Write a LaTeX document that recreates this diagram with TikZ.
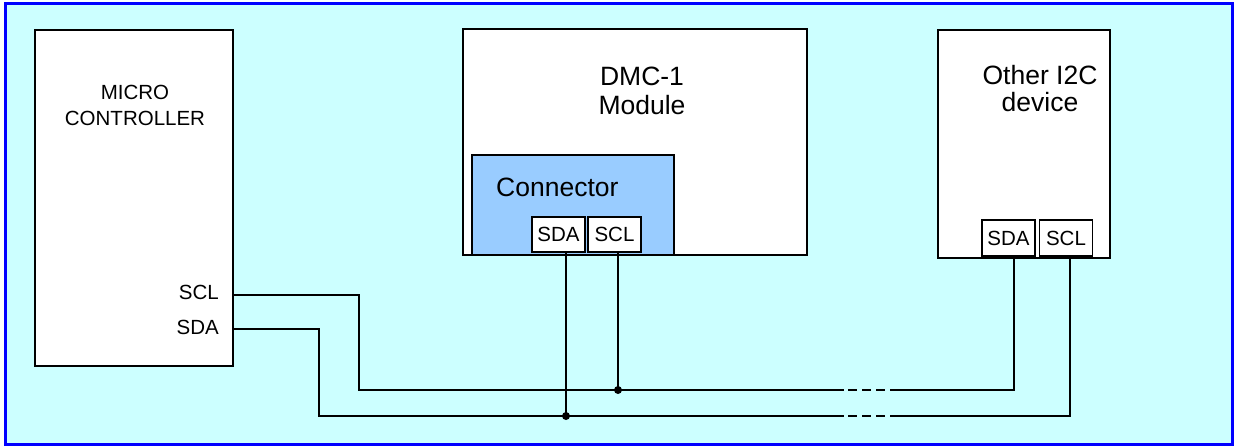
\documentclass[tikz,border=0pt]{standalone}
\usepackage{fontspec}
\setmainfont{Liberation Sans}

\definecolor{panelcyan}{HTML}{CCFFFF}
\definecolor{connblue}{HTML}{99CCFF}

\tikzset{
  unit/.style={draw,line width=2pt,fill=white,inner sep=0pt},
  pin/.style={draw,line width=1.6pt,fill=white,inner sep=0pt,
    minimum width=53pt,font=\fontsize{20.5}{20.5}\selectfont},
  wire/.style={line width=1.8pt},
  junction/.style={circle,fill,inner sep=0pt,minimum size=8pt},
  gap/.style={line width=1.8pt,dash pattern=on 9pt off 5pt,dash phase=10pt},
  bigtext/.style={align=center,inner sep=0pt,font=\fontsize{26.5}{29}\selectfont},
  pinlabel/.style={anchor=base east,inner sep=0pt,font=\fontsize{20.5}{20.5}\selectfont}
}

\begin{document}
\begin{tikzpicture}[x=1pt,y=-1pt]
    \useasboundingbox (0,0) rectangle (1235,447);
    \draw [blue,line width=3pt,fill=panelcyan] (5,3) rectangle (1232,444);

    % micro controller
    \node [unit,minimum width=198pt,minimum height=336pt] (mcu) at (134,198) {};
    \node [align=center,inner sep=0pt,font=\fontsize{20.5}{26}\selectfont]
    (mcu-name) at (135,105.5) {MICRO\\CONTROLLER};
    \node [pinlabel] (mcu-scl-label) at (219,299.5) {SCL};
    \node [pinlabel] (mcu-sda-label) at (219,334) {SDA};
    \coordinate (mcu-scl) at (233,295);
    \coordinate (mcu-sda) at (233,329);

    % DMC-1 module with its connector
    \node [unit,minimum width=344pt,minimum height=226pt] (dmc) at (635,142) {};
    \node [bigtext] (dmc-name) at (642,90.5) {DMC-1\\Module};
    \node [unit,fill=connblue,minimum width=202pt,minimum height=100pt]
    (conn) at (573,205) {};
    \node [bigtext,anchor=base west] (conn-name) at (496,196) {Connector};
    \node [pin,minimum height=35pt] (dsda) at (558.5,234.5) {SDA};
    \node [pin,minimum height=35pt] (dscl) at (614.5,234.5) {SCL};

    % other device
    \node [unit,minimum width=172pt,minimum height=228pt] (other) at (1024,144) {};
    \node [bigtext,font=\fontsize{26.5}{27}\selectfont]
    (other-name) at (1040,88.5) {Other I2C\\device};
    \node [pin,minimum height=36pt] (osda) at (1008.5,238) {SDA};
    \node [pin,minimum height=36pt] (oscl) at (1066,238) {SCL};

    % bus lines, broken by a dashed gap
    \coordinate (scl-a) at (844,390);
    \coordinate (scl-b) at (890,390);
    \coordinate (sda-a) at (844,416);
    \coordinate (sda-b) at (890,416);

    \draw [wire] (mcu-scl) -- ++(126,0) |- (scl-a);
    \draw [wire] (mcu-sda) -- ++(86,0) |- (sda-a);
    \draw [gap] (scl-a) -- (scl-b);
    \draw [gap] (sda-a) -- (sda-b);
    \draw [wire] (scl-b) -| ([xshift=5.5pt]osda.south);
    \draw [wire] (sda-b) -| ([xshift=4pt]oscl.south);

    \draw [wire] ([xshift=3.5pt]dscl.south) -- ([xshift=3.5pt]dscl.south |- scl-a)
    node [junction] (j-scl) {};
    \draw [wire] ([xshift=7.5pt]dsda.south) -- ([xshift=7.5pt]dsda.south |- sda-a)
    node [junction] (j-sda) {};
  \end{tikzpicture}
\end{document}
